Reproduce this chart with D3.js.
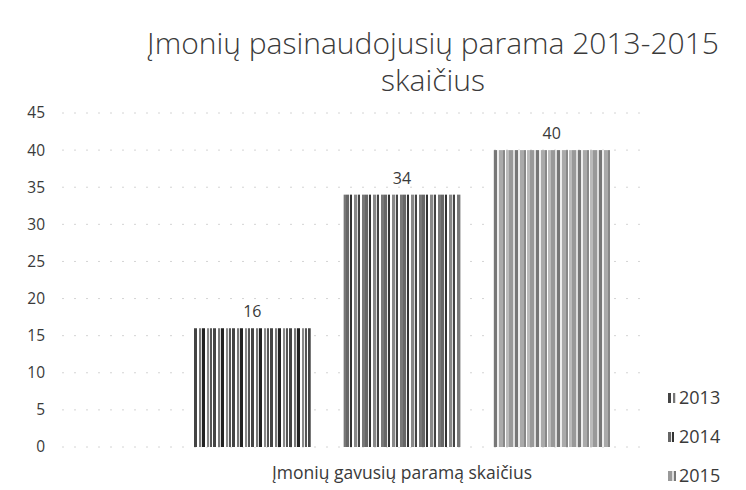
<!DOCTYPE html>
<html>
<head>
<meta charset="utf-8">
<script src="https://cdn.jsdelivr.net/npm/d3@7"></script>
<style>
  body { margin: 0; background: #fff; }
  text { font-family: "Open Sans", "Noto Sans", sans-serif; fill: #3a3a3a; }
</style>
</head>
<body>
<div id="chart"></div>
<script>
// data
var categories = ["Įmonių gavusių paramą skaičius"];
var years = ["2013", "2014", "2015"];
var values = [16, 34, 40];
var yTicks = [0, 5, 10, 15, 20, 25, 30, 35, 40, 45];

var width = 746, height = 490;

var svg = d3.select("#chart")
    .append("svg")
    .attr("width", width)
    .attr("height", height);

// stripe patterns, one per year (the scan shows vertical bars of grey)
var defs = svg.append("defs");
var stripes = {
    "2013": [["#444", 3], ["#fff", 2], ["#777", 2], ["#ddd", 1], ["#222", 3], ["#fff", 2], ["#888", 2], ["#eee", 1], ["#555", 2], ["#fff", 1]],
    "2014": [["#666", 3], ["#eee", 1], ["#333", 2], ["#fff", 2], ["#888", 3], ["#ddd", 1], ["#444", 2], ["#fff", 2], ["#777", 3]],
    "2015": [["#999", 4], ["#ddd", 2], ["#777", 3], ["#eee", 2], ["#aaa", 4], ["#888", 2], ["#fff", 1], ["#bbb", 3]]
};
years.forEach(function (yr) {
    var total = d3.sum(stripes[yr], function (d) { return d[1]; });
    var p = defs.append("pattern")
        .attr("id", "p" + yr)
        .attr("patternUnits", "userSpaceOnUse")
        .attr("width", total)
        .attr("height", 10);
    var off = 0;
    stripes[yr].forEach(function (s) {
        p.append("rect").attr("x", off).attr("y", 0)
            .attr("width", s[1]).attr("height", 10).attr("fill", s[0]);
        off += s[1];
    });
});

// scales
var y = d3.scaleLinear().domain([0, 45]).range([447, 113]);
var x0 = d3.scaleBand().domain(categories).range([194, 610]);
var x1 = d3.scaleBand().domain(years).range([0, x0.bandwidth()]).paddingInner(0.22);

// gridlines
svg.append("g")
    .selectAll("line")
    .data(yTicks)
    .enter()
    .append("line")
    .attr("x1", 62).attr("x2", 640)
    .attr("y1", function (d) { return y(d); })
    .attr("y2", function (d) { return y(d); })
    .attr("stroke", "#d4d4d4")
    .attr("stroke-width", 1)
    .attr("stroke-dasharray", "2,10");

// y tick labels
svg.append("g")
    .selectAll("text")
    .data(yTicks)
    .enter()
    .append("text")
    .attr("x", 45)
    .attr("y", function (d) { return y(d); })
    .attr("dy", "0.35em")
    .attr("text-anchor", "end")
    .attr("font-size", "15.5px")
    .text(function (d) { return d; });

// bars
var group = svg.append("g")
    .selectAll("g")
    .data(categories)
    .enter()
    .append("g")
    .attr("transform", function (d) { return "translate(" + x0(d) + ",0)"; });

group.selectAll("rect")
    .data(years.map(function (yr, i) { return {year: yr, value: values[i]}; }))
    .enter()
    .append("rect")
    .attr("x", function (d) { return x1(d.year); })
    .attr("y", function (d) { return y(d.value); })
    .attr("width", x1.bandwidth())
    .attr("height", function (d) { return y(0) - y(d.value); })
    .attr("fill", function (d) { return "url(#p" + d.year + ")"; });

// value labels
group.selectAll("text.val")
    .data(years.map(function (yr, i) { return {year: yr, value: values[i]}; }))
    .enter()
    .append("text")
    .attr("class", "val")
    .attr("x", function (d) { return x1(d.year) + x1.bandwidth() / 2; })
    .attr("y", function (d) { return y(d.value) - 11; })
    .attr("text-anchor", "middle")
    .attr("font-size", "16px")
    .text(function (d) { return d.value; });

// category label
svg.append("text")
    .attr("x", x0(categories[0]) + x0.bandwidth() / 2)
    .attr("y", 479)
    .attr("text-anchor", "middle")
    .attr("font-size", "17.5px")
    .text(categories[0]);

// title
var title = svg.append("text")
    .attr("text-anchor", "middle")
    .attr("font-size", "30px")
    .attr("font-weight", 300);
title.append("tspan").attr("x", 433).attr("y", 54).text("Įmonių pasinaudojusių parama 2013-2015");
title.append("tspan").attr("x", 433).attr("y", 91).text("skaičius");

// legend
var legend = svg.append("g")
    .selectAll("g")
    .data(years)
    .enter()
    .append("g")
    .attr("transform", function (d, i) { return "translate(668," + (398 + i * 39) + ")"; });

legend.append("rect")
    .attr("x", 0).attr("y", -5)
    .attr("width", 8).attr("height", 10)
    .attr("fill", function (d) { return "url(#p" + d + ")"; });

legend.append("text")
    .attr("x", 11)
    .attr("dy", "0.35em")
    .attr("font-size", "18px")
    .text(function (d) { return d; });
</script>
</body>
</html>
